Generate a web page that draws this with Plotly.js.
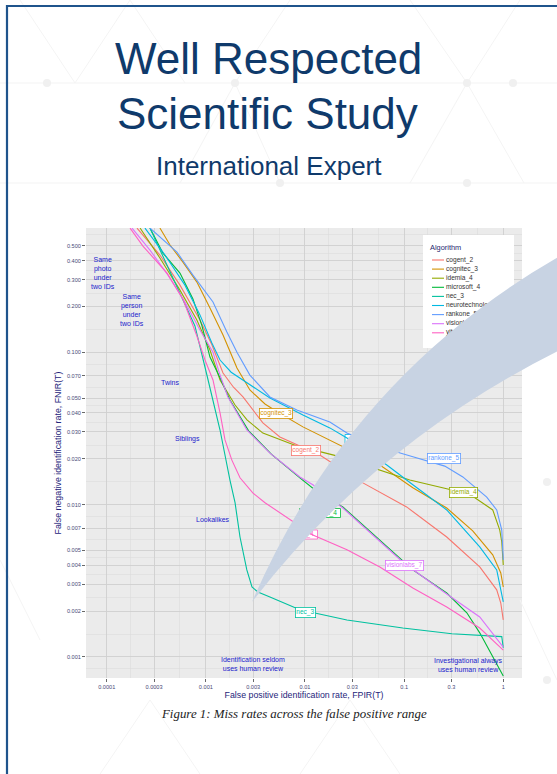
<!DOCTYPE html>
<html><head><meta charset="utf-8">
<script src="https://cdn.plot.ly/plotly-3.0.1.min.js"></script>
<style>html,body{margin:0;padding:0;background:#fff;overflow:hidden}#chart{width:557px;height:774px}</style>
</head><body><div id="chart"></div>
<script>
// ---------- data ----------
const algorithms = ['cogent_2','cognitec_3','idemia_4','microsoft_4','nec_3','neurotechnology_5','rankone_5','visionlabs_7','yitu_4'];
const colors = ['#F8766D','#D39200','#93AA00','#00BA38','#00C19F','#00B9E3','#619CFF','#DB72FB','#FF61C3'];

const cogent2_fpir = [2.02e-4,3.44e-4,5.48e-4,8.72e-4,1.15e-3,1.49e-3,1.90e-3,2.37e-3,3.76e-3,5.58e-3,1.41e-2,3.84e-2,0.106,0.269,0.579,0.859,0.944,1.0];
const cogent2_fnir = [0.654,0.435,0.276,0.163,0.112,0.0731,0.0590,0.0509,0.0344,0.0278,0.0212,0.0139,0.00966,0.00613,0.00390,0.00276,0.00226,0.00175];

const cognitec3_fpir = [3.44e-4,4.35e-4,5.87e-4,8.12e-4,1.10e-3,1.49e-3,2.06e-3,2.78e-3,3.95e-3,5.09e-3,9.53e-3,1.78e-2,5.69e-2,0.1225,0.269,0.492,0.783,0.944,1.0];
const cognitec3_fnir = [0.654,0.506,0.391,0.289,0.195,0.130,0.0789,0.0566,0.0458,0.0412,0.0324,0.0266,0.0182,0.0129,0.00951,0.00672,0.00468,0.00356,0.00288];

const idemia4_fpir = [2.17e-4,3.44e-4,5.48e-4,8.12e-4,1.10e-3,1.39e-3,1.97e-3,2.60e-3,3.76e-3,8.28e-3,2.09e-2,5.69e-2,0.114,0.269,0.459,0.783,0.922,0.966,1.0];
const idemia4_fnir = [0.654,0.416,0.256,0.163,0.1035,0.0658,0.0451,0.0360,0.0295,0.0243,0.0209,0.0169,0.0145,0.0127,0.0117,0.00923,0.00681,0.00569,0.00402];

const microsoft4_fpir = [2.73e-4,3.69e-4,5.48e-4,7.41e-4,9.14e-4,1.10e-3,1.39e-3,1.75e-3,2.70e-3,4.60e-3,8.88e-3,1.41e-2,2.41e-2,5.69e-2,0.1225,0.269,0.429,0.579,0.783,1.0];
const microsoft4_fnir = [0.654,0.448,0.331,0.224,0.149,0.0930,0.0680,0.0486,0.0305,0.0214,0.0150,0.0118,0.00966,0.00587,0.00373,0.00263,0.00195,0.00144,0.00100,0.00075];

const nec3_fpir = [2.73e-4,4.55e-4,7.76e-4,1.03e-3,1.39e-3,1.75e-3,1.97e-3,2.21e-3,2.59e-3,2.92e-3,3.35e-3,4.43e-3,8.88e-3,2.65e-2,9.70e-2,0.303,0.579,0.966,1.0];
const nec3_fnir = [0.654,0.317,0.149,0.0699,0.0309,0.0145,0.0103,0.00613,0.00373,0.00288,0.00267,0.00248,0.00204,0.00175,0.00155,0.00142,0.00138,0.00136,0.00115];

const neuro5_fpir = [2.43e-4,3.87e-4,6.15e-4,8.72e-4,1.15e-3,1.39e-3,1.80e-3,2.37e-3,4.43e-3,9.53e-3,1.78e-2,2.65e-2,6.69e-2,0.1225,0.269,0.579,0.859,1.0];
const neuro5_fnir = [0.654,0.435,0.276,0.176,0.115,0.0890,0.0740,0.0658,0.0501,0.0388,0.0319,0.0274,0.0182,0.0135,0.00923,0.00528,0.00373,0.00230];

const rankone5_fpir = [2.73e-4,5.11e-4,7.41e-4,1.18e-3,1.63e-3,2.06e-3,2.78e-3,4.43e-3,8.28e-3,1.78e-2,2.65e-2,5.69e-2,0.1225,0.257,0.391,0.681,0.859,0.966,1.0];
const rankone5_fnir = [0.654,0.455,0.321,0.214,0.136,0.100,0.0709,0.0509,0.0418,0.0349,0.0295,0.0239,0.0206,0.0179,0.0152,0.0112,0.00923,0.00681,0.00434];

const visionlabs7_fpir = [1.80e-4,2.73e-4,4.15e-4,6.15e-4,8.72e-4,1.18e-3,1.39e-3,1.67e-3,2.59e-3,4.43e-3,8.88e-3,1.20e-2,2.41e-2,5.69e-2,9.93e-2,0.269,0.579,1.0];
const visionlabs7_fnir = [0.654,0.469,0.321,0.214,0.140,0.100,0.0709,0.0509,0.0309,0.0218,0.0152,0.0135,0.00951,0.00569,0.00414,0.00259,0.00183,0.00116];

const yitu4_fpir = [1.72e-4,2.32e-4,4.06e-4,5.87e-4,8.12e-4,9.80e-4,1.18e-3,1.39e-3,1.56e-3,1.83e-3,2.21e-3,2.99e-3,3.95e-3,5.58e-3,8.88e-3,1.20e-2,2.65e-2,5.69e-2,0.1225,0.269,0.579,1.0];
const yitu4_fnir = [0.654,0.498,0.331,0.224,0.128,0.0890,0.0658,0.0400,0.0266,0.0196,0.0150,0.0119,0.0103,0.00882,0.00714,0.00632,0.00505,0.00390,0.00284,0.00213,0.00155,0.00111];

const xTickVals = [0.0001,0.0003,0.001,0.003,0.01,0.03,0.1,0.3,1];
const xTickText = ['0.0001','0.0003','0.001','0.003','0.01','0.03','0.1','0.3','1'];
const yTickVals = [0.001,0.002,0.003,0.004,0.005,0.007,0.01,0.02,0.03,0.04,0.05,0.07,0.1,0.2,0.3,0.4,0.5];
const yTickText = ['0.001','0.002','0.003','0.004','0.005','0.007','0.010','0.020','0.030','0.040','0.050','0.070','0.100','0.200','0.300','0.400','0.500'];

// ---------- geometry helpers ----------
const L = 86, R = 522, T = 228, B = 678;
const xr = [-4.209, 0.189], yr = [-3.138, -0.184];
const PX = px => (px - L) / (R - L);
const PY = py => (B - py) / (B - T);
const dX = px => Math.pow(10, xr[0] + PX(px) * (xr[1] - xr[0]));
const dY = py => Math.pow(10, yr[0] + PY(py) * (yr[1] - yr[0]));

const series = [
  [cogent2_fpir, cogent2_fnir], [cognitec3_fpir, cognitec3_fnir], [idemia4_fpir, idemia4_fnir],
  [microsoft4_fpir, microsoft4_fnir], [nec3_fpir, nec3_fnir], [neuro5_fpir, neuro5_fnir],
  [rankone5_fpir, rankone5_fnir], [visionlabs7_fpir, visionlabs7_fnir], [yitu4_fpir, yitu4_fnir]
];

const traces = series.map((s, i) => ({
  type: 'scatter', mode: 'lines', x: s[0], y: s[1], name: algorithms[i],
  line: {color: colors[i], width: 1.1},
  hoverinfo: 'skip', showlegend: false
}));

// legend text (as trace so the callout can cover it)
const legRowY = i => 260 + 9.1 * i;
traces.push({
  type: 'scatter', mode: 'text', cliponaxis: false, hoverinfo: 'skip', showlegend: false,
  x: [dX(430)].concat(algorithms.map(() => dX(446))),
  y: [dY(248)].concat(algorithms.map((a, i) => dY(legRowY(i)))),
  text: ['Algorithm'].concat(algorithms),
  textposition: 'middle right',
  textfont: {family: 'Liberation Sans, Arial, sans-serif', size: [7.4].concat(algorithms.map(() => 6.6)),
             color: ['#26266e'].concat(algorithms.map(() => '#333333'))}
});

// curve labels partly hidden by the callout
const hiddenLabels = [{i: 5, cx: 376, cy: 439, w: 62}, {i: 3, cx: 320, cy: 513, w: 41}, {i: 8, cx: 305, cy: 534.5, w: 25}];
traces.push({
  type: 'scatter', mode: 'text', hoverinfo: 'skip', showlegend: false,
  x: hiddenLabels.map(h => dX(h.cx)), y: hiddenLabels.map(h => dY(h.cy)),
  text: hiddenLabels.map(h => algorithms[h.i]), textposition: 'middle center',
  textfont: {family: 'Liberation Sans, Arial, sans-serif', size: 6.5, color: hiddenLabels.map(h => colors[h.i])}
});

// ---------- shapes ----------
const shapes = [];
// faint slide background pattern
const P = (x, y) => PX(x).toFixed(4) + ',' + PY(y).toFixed(4);
[[83, 0, 557], [183, 0, 557]].forEach(h => shapes.push({type: 'line', layer: 'below', xref: 'paper', yref: 'paper',
  x0: PX(h[1]), x1: PX(h[2]), y0: PY(h[0]), y1: PY(h[0]), line: {color: '#f3f3f3', width: 1}}));
[[20, 0, 75, 83], [75, 83, 130, 0], [130, 0, 185, 83], [290, 0, 235, 83], [235, 83, 180, 183],
 [410, 0, 467, 83], [467, 83, 520, 0], [467, 83, 410, 183], [467, 83, 524, 183], [280, 183, 235, 83],
 [0, 560, 40, 640], [520, 600, 557, 680], [100, 774, 150, 700], [150, 700, 200, 774], [300, 774, 350, 700], [350, 700, 400, 774]]
  .forEach(d => shapes.push({type: 'line', layer: 'below', xref: 'paper', yref: 'paper',
    x0: PX(d[0]), y0: PY(d[1]), x1: PX(d[2]), y1: PY(d[3]), line: {color: '#f4f4f4', width: 1}}));
[[47, 83], [235, 83], [467, 83], [513, 83], [280, 183], [467, 183], [547, 482], [547, 680]].forEach(c =>
  shapes.push({type: 'circle', layer: 'below', xref: 'paper', yref: 'paper',
    x0: PX(c[0] - 4), x1: PX(c[0] + 4), y0: PY(c[1] + 4), y1: PY(c[1] - 4), fillcolor: '#f0f0f0', line: {width: 0}}));
// legend box & keys
shapes.push({type: 'rect', layer: 'between', xref: 'x', yref: 'y', x0: dX(423), x1: dX(514), y0: dY(348), y1: dY(235),
  fillcolor: '#ffffff', line: {width: 0}});
algorithms.forEach((a, i) => shapes.push({type: 'line', layer: 'between', xref: 'x', yref: 'y',
  x0: dX(432), x1: dX(444), y0: dY(legRowY(i)), y1: dY(legRowY(i)), line: {color: colors[i], width: 1.1}}));
hiddenLabels.forEach(h => shapes.push({type: 'rect', layer: 'between', xref: 'x', yref: 'y',
  x0: dX(h.cx - h.w / 2), x1: dX(h.cx + h.w / 2), y0: dY(h.cy + 4.5), y1: dY(h.cy - 4.5),
  fillcolor: '#ffffff', line: {color: colors[h.i], width: 0.8}}));
// callout
shapes.push({type: 'path', layer: 'above', xref: 'paper', yref: 'paper',
  path: 'M' + P(252, 602) + ' Q' + P(350, 375) + ' ' + P(562, 255) + ' L' + P(562, 349) + ' Q' + P(376, 441) + ' ' + P(252, 602) + ' Z',
  fillcolor: '#c8d3e3', line: {width: 0}});
// slide border
shapes.push({type: 'line', layer: 'above', xref: 'paper', yref: 'paper', x0: PX(7), x1: PX(7), y0: PY(5), y1: PY(780), line: {color: '#1f548c', width: 2.2}});
shapes.push({type: 'line', layer: 'above', xref: 'paper', yref: 'paper', x0: PX(6), x1: PX(562), y0: PY(6), y1: PY(6), line: {color: '#1f548c', width: 2.2}});

// ---------- annotations ----------
const ann = [];
const titleFont = {family: 'Liberation Sans, Arial, sans-serif', color: '#0f3a6b'};
ann.push({xref: 'paper', yref: 'paper', x: PX(268), y: PY(59), text: 'Well Respected', showarrow: false, xanchor: 'center', yanchor: 'middle', font: Object.assign({size: 44}, titleFont)});
ann.push({xref: 'paper', yref: 'paper', x: PX(267), y: PY(114), text: 'Scientific Study', showarrow: false, xanchor: 'center', yanchor: 'middle', font: Object.assign({size: 44}, titleFont)});
ann.push({xref: 'paper', yref: 'paper', x: PX(269), y: PY(166), text: 'International Expert', showarrow: false, xanchor: 'center', yanchor: 'middle', font: Object.assign({size: 26}, titleFont)});
ann.push({xref: 'paper', yref: 'paper', x: PX(294), y: PY(714), text: '<i>Figure 1: Miss rates across the false positive range</i>', showarrow: false, xanchor: 'center', yanchor: 'middle',
  font: {family: 'Liberation Serif, Times New Roman, serif', size: 12.9, color: '#222222'}});

const notes = [
  ['Same<br>photo<br>under<br>two IDs', 103, 272.5],
  ['Same<br>person<br>under<br>two IDs', 132, 309.5],
  ['Twins', 170, 382], ['Siblings', 187, 439], ['Lookalikes', 213, 519],
  ['Identification seldom<br>uses human review', 253, 664],
  ['Investigational always<br>uses human review', 468, 664.5]
];
notes.forEach(n => ann.push({xref: 'paper', yref: 'paper', x: PX(n[1]), y: PY(n[2]), text: n[0], showarrow: false,
  xanchor: 'center', yanchor: 'middle', align: 'center', font: {size: 7, color: '#2222cc'}}));

const curveLabels = [{i: 1, cx: 276, cy: 413.5}, {i: 0, cx: 306, cy: 450}, {i: 6, cx: 444, cy: 458.5},
  {i: 2, cx: 463.5, cy: 492.5}, {i: 7, cx: 404.5, cy: 565}, {i: 4, cx: 305, cy: 612.5}];
curveLabels.forEach(c => ann.push({xref: 'paper', yref: 'paper', x: PX(c.cx), y: PY(c.cy), text: algorithms[c.i], showarrow: false,
  xanchor: 'center', yanchor: 'middle', bgcolor: '#ffffff', bordercolor: colors[c.i], borderwidth: 0.8, borderpad: 0.5,
  font: {size: 6.5, color: colors[c.i]}}));

const minorOf = v => v.slice(1).map((t, i) => Math.sqrt(t * v[i]));
const axisCommon = {type: 'log', ticks: 'outside', ticklen: 3, tickwidth: 0.8, tickcolor: '#444444',
  tickfont: {size: 5.6, color: '#4a4a78'}, showgrid: true, gridcolor: '#cfcfcf', gridwidth: 0.9,
  zeroline: false, showline: false, fixedrange: true, tickmode: 'array'};

const layout = {
  width: 557, height: 774,
  margin: {l: L, r: 557 - R, t: T, b: 774 - B, pad: 0},
  paper_bgcolor: '#ffffff', plot_bgcolor: '#ebebeb',
  font: {family: 'Liberation Sans, Arial, sans-serif', color: '#333333'},
  showlegend: false,
  xaxis: Object.assign({}, axisCommon, {range: xr, tickvals: xTickVals, ticktext: xTickText,
    minor: {tickmode: 'array', tickvals: minorOf(xTickVals), showgrid: true, gridcolor: '#dcdcdc', gridwidth: 0.6, ticks: ''},
    title: {text: 'False positive identification rate, FPIR(T)', font: {size: 8.8, color: '#25257a'}, standoff: 3}}),
  yaxis: Object.assign({}, axisCommon, {range: yr, tickvals: yTickVals, ticktext: yTickText,
    minor: {tickmode: 'array', tickvals: minorOf([0.0007].concat(yTickVals, [0.7])), showgrid: true, gridcolor: '#dcdcdc', gridwidth: 0.6, ticks: ''},
    title: {text: 'False negative identification rate, FNIR(T)', font: {size: 8.8, color: '#25257a'}, standoff: 3}}),
  shapes: shapes,
  annotations: ann
};

Plotly.newPlot('chart', traces, layout, {staticPlot: true, displayModeBar: false});
</script>
</body></html>
